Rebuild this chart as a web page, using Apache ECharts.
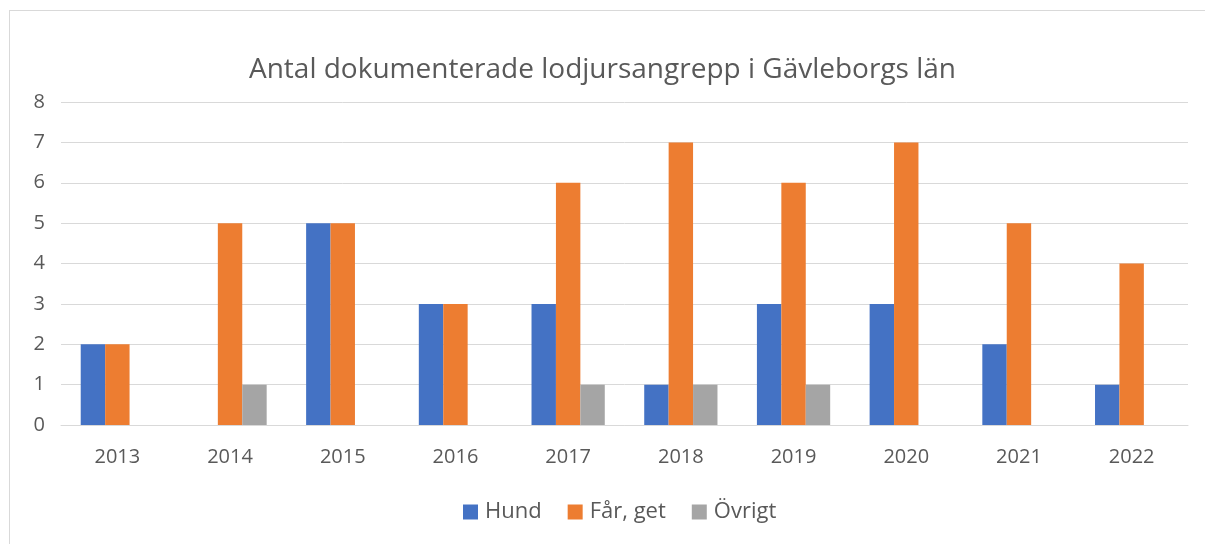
<!DOCTYPE html>
<html>
<head>
<meta charset="utf-8">
<script src="https://cdn.jsdelivr.net/npm/echarts@6/dist/echarts.min.js"></script>
<style>
    html, body { margin: 0; padding: 0; background: #fff; }
    #frame {
        position: absolute; left: 9px; top: 10px;
        width: 1250px; height: 600px;
        border: 1px solid #d9d9d9; box-sizing: border-box;
    }
    #chart { position: absolute; left: 0; top: 0; width: 1205px; height: 544px; }
</style>
</head>
<body>
<div id="frame"></div>
<div id="chart"></div>
<script>
// 年份
const years = ['2013', '2014', '2015', '2016', '2017', '2018', '2019', '2020', '2021', '2022'];

// 各类别数值
const hund = [2, 0, 5, 3, 3, 1, 3, 3, 2, 1];
const farGet = [2, 5, 5, 3, 6, 7, 6, 7, 5, 4];
const ovrigt = [0, 1, 0, 0, 1, 1, 1, 0, 0, 0];

const FONT = '"Open Sans", "Noto Sans", sans-serif';
const TEXT_COLOR = '#595959';

let chart = echarts.init(document.querySelector('#chart'));

chart.setOption({
    animation: false,
    title: {
        text: 'Antal dokumenterade lodjursangrepp i Gävleborgs län',
        left: 'center',
        top: 51,
        textStyle: {
            fontFamily: FONT,
            fontSize: 28,
            fontWeight: 'normal',
            color: TEXT_COLOR
        }
    },
    legend: {
        bottom: 16,
        left: 458,
        itemWidth: 15,
        itemHeight: 15,
        itemGap: 26,
        icon: 'rect',
        textStyle: {
            fontFamily: FONT,
            fontSize: 22,
            color: TEXT_COLOR,
            padding: [0, 0, 0, 2]
        },
        data: ['Hund', 'Får, get', 'Övrigt']
    },
    grid: {
        left: 61,
        right: 17,
        top: 102,
        bottom: 119,
        containLabel: false
    },
    xAxis: {
        type: 'category',
        data: years,
        axisLine: { lineStyle: { color: '#d9d9d9', width: 1 } },
        axisTick: { show: false },
        axisLabel: {
            fontFamily: FONT,
            fontSize: 20,
            color: TEXT_COLOR,
            margin: 22
        }
    },
    yAxis: {
        type: 'value',
        min: 0,
        max: 8,
        interval: 1,
        axisLine: { show: false },
        axisTick: { show: false },
        axisLabel: {
            fontFamily: FONT,
            fontSize: 20,
            color: TEXT_COLOR,
            margin: 16
        },
        splitLine: { lineStyle: { color: '#d9d9d9', width: 1 } }
    },
    series: [{
            name: 'Hund',
            type: 'bar',
            data: hund,
            barGap: '0%',
            barCategoryGap: '35%',
            itemStyle: { color: '#4472C4' }
        },
        {
            name: 'Får, get',
            type: 'bar',
            data: farGet,
            itemStyle: { color: '#ED7D31' }
        },
        {
            name: 'Övrigt',
            type: 'bar',
            data: ovrigt,
            itemStyle: { color: '#A5A5A5' }
        }
    ]
});
</script>
</body>
</html>
